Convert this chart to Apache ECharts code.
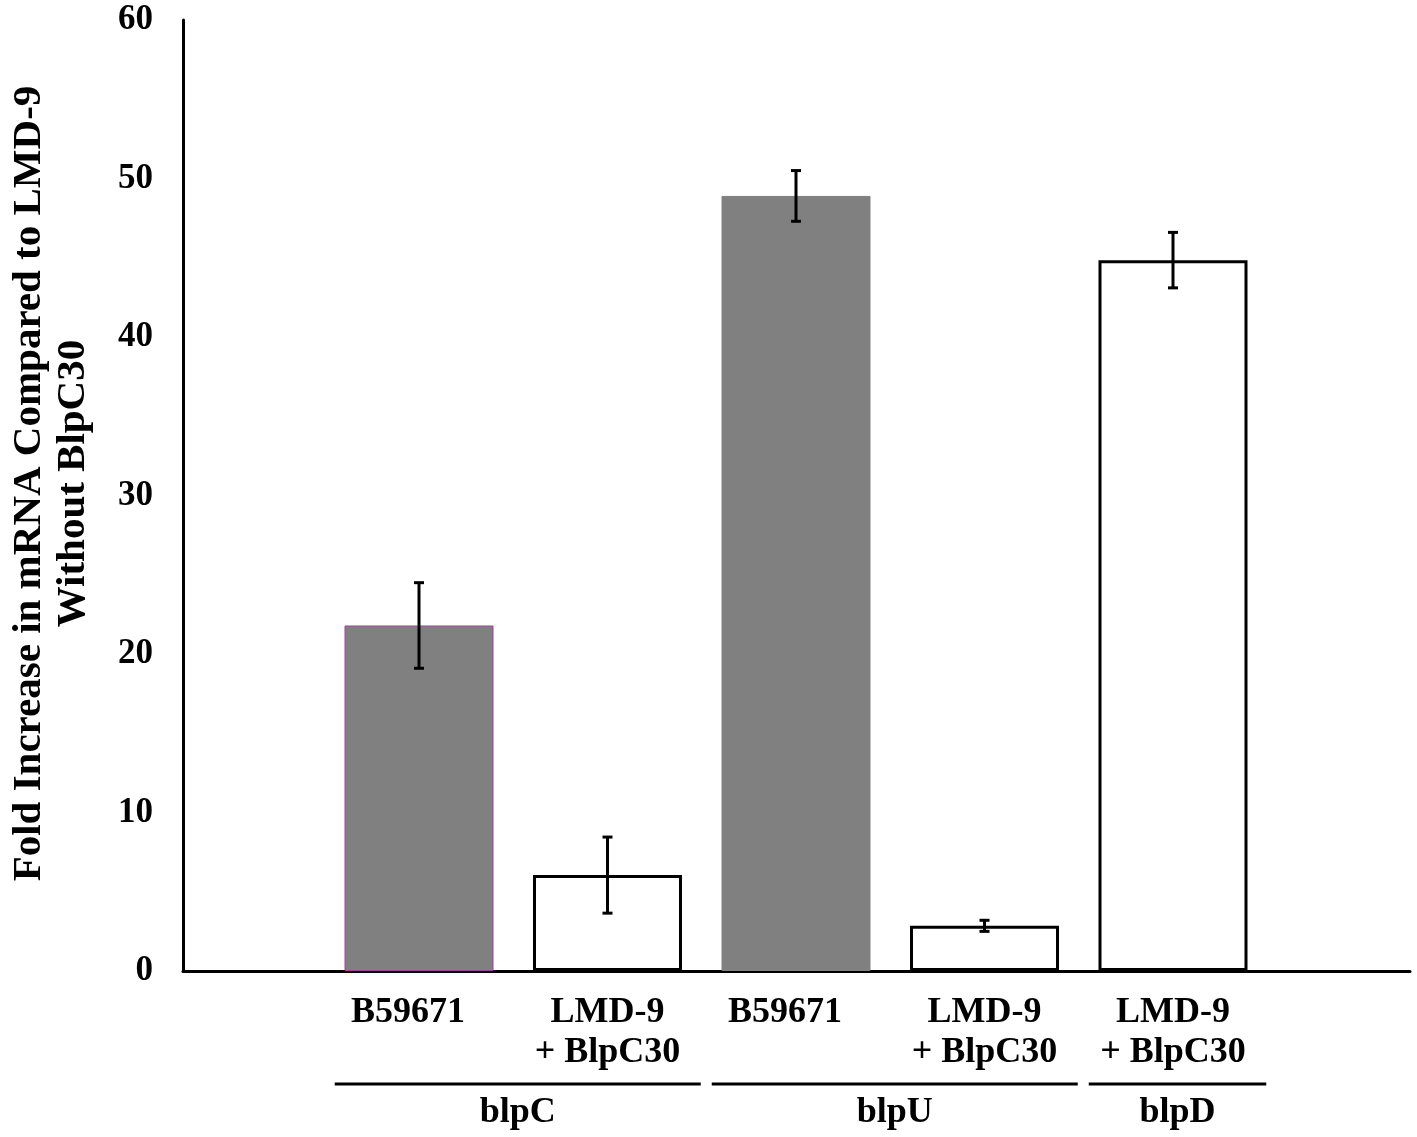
<!DOCTYPE html>
<html lang="en">
<head>
  <meta charset="UTF-8">
  <title>blp expression</title>
  <script src="https://cdn.jsdelivr.net/npm/echarts@6.0.0/dist/echarts.min.js"></script>
  <style>
    html, body { margin: 0; padding: 0; background: #fff; }
    #chart { width: 1417px; height: 1137px; }
  </style>
</head>
<body>
  <div id="chart"></div>
  <script>
    // strains under each bar, gene group for each bar
    const strains = ['B59671', 'LMD-9\n+ BlpC30', 'B59671', 'LMD-9\n+ BlpC30', 'LMD-9\n+ BlpC30'];
    const genes = ['blpC', 'blpC', 'blpU', 'blpU', 'blpD'];
    const foldValues = [21.8, 6.05, 48.9, 2.85, 44.85];
    const foldErrors = [2.7, 2.4, 1.6, 0.35, 1.75];
    const yTicks = [0, 10, 20, 30, 40, 50, 60];

    const font = "'Liberation Serif', 'Times New Roman', serif";
    const chart = echarts.init(document.getElementById('chart'));

    const barData = foldValues.map((v, i) => {
      const gray = strains[i] === 'B59671';
      return {
        value: v,
        itemStyle: gray
          ? { color: '#808080', borderColor: i === 0 ? '#a040a0' : '#808080', borderWidth: 1 }
          : { color: '#ffffff', borderColor: '#000000', borderWidth: 3 }
      };
    });

    const errorData = foldValues.map((v, i) => [i, v - foldErrors[i], v + foldErrors[i]]);

    const option = {
      animation: false,
      grid: [
        { left: 183, right: 7, top: 20, bottom: 166, containLabel: false, outerBoundsMode: 'none' },
        { left: 324.75, right: 149.75, top: 20, bottom: 166, containLabel: false, outerBoundsMode: 'none' }
      ],
      xAxis: [
        {
          gridIndex: 0, type: 'value', min: 0, max: 1,
          axisLine: { show: true, lineStyle: { color: '#000', width: 3 } },
          axisTick: { show: false }, axisLabel: { show: false }, splitLine: { show: false }
        },
        {
          gridIndex: 1, type: 'category', data: strains,
          axisLine: { show: false }, axisTick: { show: false },
          axisLabel: {
            interval: 0, margin: 22,
            formatter: (s) => s.indexOf('\n') < 0 ? '{c|' + s + '}' : s,
            fontFamily: font, fontWeight: 'bold', fontSize: 36, color: '#000', lineHeight: 40,
            rich: {
              c: { fontFamily: font, fontWeight: 'bold', fontSize: 36, color: '#000', lineHeight: 40, padding: [0, 22, 0, 0] }
            }
          }
        }
      ],
      yAxis: [
        {
          gridIndex: 0, type: 'value', min: 0, max: 60, interval: 10,
          axisLine: { show: true, lineStyle: { color: '#000', width: 3 } },
          axisTick: { show: false }, splitLine: { show: false },
          axisLabel: {
            margin: 30, fontFamily: font, fontWeight: 'bold', fontSize: 35, color: '#000',
            formatter: (v) => yTicks.indexOf(v) >= 0 ? String(v) : ''
          },
          name: 'Fold Increase in mRNA Compared to LMD-9\nWithout BlpC30',
          nameLocation: 'middle', nameRotate: 90, nameGap: 88,
          nameTextStyle: {
            fontFamily: font, fontWeight: 'bold', fontSize: 41, color: '#000', lineHeight: 44,
            padding: [0, 0, 0, 24]
          }
        },
        {
          gridIndex: 1, type: 'value', min: 0, max: 60, interval: 10, show: false
        }
      ],
      series: [
        {
          type: 'bar', xAxisIndex: 1, yAxisIndex: 1, barWidth: 149,
          data: barData, z: 2
        },
        {
          type: 'custom', xAxisIndex: 1, yAxisIndex: 1, z: 3,
          data: errorData,
          renderItem: (params, api) => {
            const lo = api.coord([api.value(0), api.value(1)]);
            const hi = api.coord([api.value(0), api.value(2)]);
            const half = 5;
            const st = { stroke: '#000', lineWidth: 3 };
            return {
              type: 'group',
              children: [
                { type: 'line', shape: { x1: hi[0], y1: hi[1], x2: lo[0], y2: lo[1] }, style: st },
                { type: 'line', shape: { x1: hi[0] - half, y1: hi[1], x2: hi[0] + half, y2: hi[1] }, style: st },
                { type: 'line', shape: { x1: lo[0] - half, y1: lo[1], x2: lo[0] + half, y2: lo[1] }, style: st }
              ]
            };
          }
        }
      ]
    };
    chart.setOption(option);

    // gene group underlines and names below the strain labels
    const groups = [];
    genes.forEach((g, i) => {
      const last = groups[groups.length - 1];
      if (last && last.name === g) last.to = i;
      else groups.push({ name: g, from: i, to: i });
    });
    const c0 = chart.convertToPixel({ xAxisIndex: 1 }, 0);
    const c1 = chart.convertToPixel({ xAxisIndex: 1 }, 1);
    const step = c1 - c0;
    const graphics = [];
    groups.forEach(g => {
      const x1 = chart.convertToPixel({ xAxisIndex: 1 }, g.from) - step / 2 + 10;
      const x2 = chart.convertToPixel({ xAxisIndex: 1 }, g.to) + step / 2 - 1;
      graphics.push({
        type: 'line', shape: { x1: x1, y1: 1084, x2: x2, y2: 1084 },
        style: { stroke: '#000', lineWidth: 3 }
      });
      graphics.push({
        type: 'text', x: (x1 + x2) / 2, y: 1113,
        style: {
          text: g.name, fontFamily: font, fontWeight: 'bold', fontSize: 36,
          fill: '#000', align: 'center', verticalAlign: 'middle'
        }
      });
    });
    chart.setOption({ graphic: graphics });
  </script>
</body>
</html>
